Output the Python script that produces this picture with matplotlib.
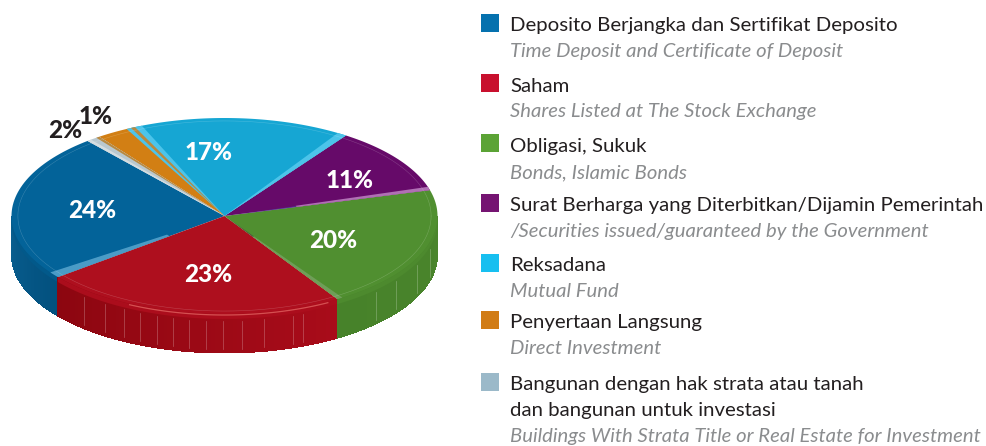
import matplotlib
matplotlib.use("Agg")
import matplotlib.pyplot as plt
from matplotlib.colors import to_rgb
import numpy as np

# shares as drawn in the picture (printed labels are in pct_labels)
shares = [24.4, 23, 20.2, 11, 16.7, 2.8, 1.1]
pct_labels = ["24%", "23%", "20%", "11%", "17%", "1%", "2%"]
top_colors = ["#036399", "#ae0f1e", "#508f30", "#660a69", "#16a6d3", "#d27f14", "#b9c8cf"]
side_left = ["#0a5f90", "#8c0610", "#47822a", "#660a69", "#16a6d3", "#d27f14", "#b9c8cf"]
side_right = ["#02507e", "#a90c1a", "#4a852c", "#660a69", "#16a6d3", "#d27f14", "#b9c8cf"]
stripe_colors = ["#4f9fc9", "#ae0f1e", "#6f9e58", "#b070b4", "#4cc4ea", "#b9893f", "#d5dde0"]

legend_colors = ["#0571ae", "#c8102e", "#5ba335", "#751472", "#17bff0", "#d17c15", "#9bb9c9"]
legend_main = ["Deposito Berjangka dan Sertifikat Deposito", "Saham", "Obligasi, Sukuk",
               "Surat Berharga yang Diterbitkan/Dijamin Pemerintah", "Reksadana",
               "Penyertaan Langsung", "Bangunan dengan hak strata atau tanah\ndan bangunan untuk investasi"]
legend_sub = ["Time Deposit and Certificate of Deposit", "Shares Listed at The Stock Exchange",
              "Bonds, Islamic Bonds", "/Securities issued/guaranteed by the Government",
              "Mutual Fund", "Direct Investment",
              "Buildings With Strata Title or Real Estate for Investment"]

# layout, in pixels of the picture
cx, cy, rx, ry, depth = 224.5, 216, 213, 98, 39
start = 130
font = "Lato"
label_xy = [(92, 211), (208, 274), (333, 241), (350, 180), (209, 152), (96, 117), (65, 131)]
main_y = [31, 92, 152, 211, 271, 328, 390]
sub_y = [57, 117, 178, 237, 297, 354, 442]
box_y = [14, 74, 134, 194, 254, 311, 373]
seam_x = [84, 105, 124, 140, 157, 173, 189, 206, 223, 242, 264, 293, 303, 376, 396, 417, 430]


def rim(t, r=1.0, drop=0):
    t = np.radians(t)
    return cx + r * rx * np.cos(t), cy - r * ry * np.sin(t) + drop


def wedge(ax, a, b, color, r0=0.0, r1=1.0, **kw):
    t = np.linspace(a, b, 60)
    x, y = rim(t, r1)
    x0, y0 = rim(t[::-1], r0)
    ax.fill(np.r_[x, x0], np.r_[y, y0], color=color, lw=0, **kw)


fig = plt.figure(figsize=(9.87, 4.46), dpi=100)
ax = fig.add_axes([0, 0, 1, 1])
ax.set_xlim(0, 987)
ax.set_ylim(446, 0)
ax.axis("off")

edges = start + np.r_[0, np.cumsum(shares)] / np.sum(shares) * 360

# side wall, only the front half shows
for i in range(len(shares)):
    for lo, hi in [(edges[i], edges[i + 1]), (edges[i] - 360, edges[i + 1] - 360)]:
        a, b = max(lo, 180), min(hi, 360)
        if a >= b:
            continue
        steps = np.arange(a, b, 1.0)
        steps = np.r_[steps, b]
        c0 = np.array(to_rgb(side_left[i]))
        c1 = np.array(to_rgb(side_right[i]))
        for s0, s1 in zip(steps[:-1], steps[1:]):
            f = (s0 - a) / max(b - a, 1)
            t = np.array([s0, s1])
            x, y = rim(t)
            ax.fill(np.r_[x, x[::-1]], np.r_[y, y[::-1] + depth],
                    color=c0 + (c1 - c0) * f, lw=0, antialiased=False)
        # lip just under the top face
        t = np.linspace(a, b, 60)
        x, y = rim(t)
        lip = c1 * 0.55 + np.array(to_rgb(top_colors[i])) * 0.45
        ax.fill(np.r_[x, x[::-1]], np.r_[y, y[::-1] + 5], color=lip, lw=0)

# faint vertical seams on the wall
for sx in seam_x:
    top = cy + ry * np.sqrt(1 - ((sx - cx) / rx) ** 2)
    ax.plot([sx, sx], [top + 7, top + depth - 4], color="white", lw=0.5, alpha=0.3)

# top faces
for i in range(len(shares)):
    wedge(ax, edges[i], edges[i + 1], top_colors[i])

# light cut faces along the wedge edges
wedge(ax, edges[1] - 3.4, edges[1], stripe_colors[0], r0=0.33, alpha=0.95)
wedge(ax, edges[2], edges[2] + 1.6, stripe_colors[2], r0=0.25)
wedge(ax, edges[2], edges[2] + 1.6, "#4d5a3c", r0=0.0, r1=0.25)
wedge(ax, edges[3], edges[3] + 2.0, stripe_colors[3], r0=0.35)
wedge(ax, edges[3], edges[3] + 1.2, "#4a3f9e", r0=0.0, r1=0.35)
wedge(ax, edges[5] - 3, edges[5], stripe_colors[4], r0=0.05)
wedge(ax, edges[5], edges[5] + 1.5, stripe_colors[4], r0=0.05)
wedge(ax, edges[5] - 1, edges[5] + 0.2, stripe_colors[5], r0=0.05)
wedge(ax, edges[7] - 1.2, edges[7], stripe_colors[6], r0=0.05)
wedge(ax, edges[6], edges[6] + 1.0, stripe_colors[5], r0=0.05)
# stripe on the cyan side towards purple
a = edges[4]
wedge(ax, a, a + 2.6, stripe_colors[4], r0=0.03)

# thin line just inside the rim, brighter edge at the front
t = np.linspace(0, 360, 400)
x, y = rim(t, 0.97)
ax.plot(x, y, color="white", lw=0.4, alpha=0.2)
t = np.linspace(edges[1] + 25, edges[2] - 3, 100)
x, y = rim(t, 1.0, 1)
ax.plot(x, y, color="#e0615f", lw=0.9, alpha=0.8)

# percent labels
for i in range(len(pct_labels)):
    col = "white" if i < 5 else "#231f20"
    ax.text(label_xy[i][0], label_xy[i][1], pct_labels[i], color=col, fontsize=17.5,
            fontweight="black", family=font, ha="center", va="center")

# legend
for i in range(len(legend_main)):
    ax.fill([481, 499, 499, 481], [box_y[i], box_y[i], box_y[i] + 18, box_y[i] + 18],
            color=legend_colors[i], lw=0)
    lines = legend_main[i].split("\n")
    for k, line in enumerate(lines):
        ax.text(510, main_y[i] + 26 * k, line, color="#231f20", fontsize=14.7,
                family=font, ha="left", va="baseline")
    ax.text(510, sub_y[i], legend_sub[i], color="#8a8c8e", fontsize=14.6, style="italic",
            family=font, ha="left", va="baseline")

fig.savefig("out.png", dpi=100)
